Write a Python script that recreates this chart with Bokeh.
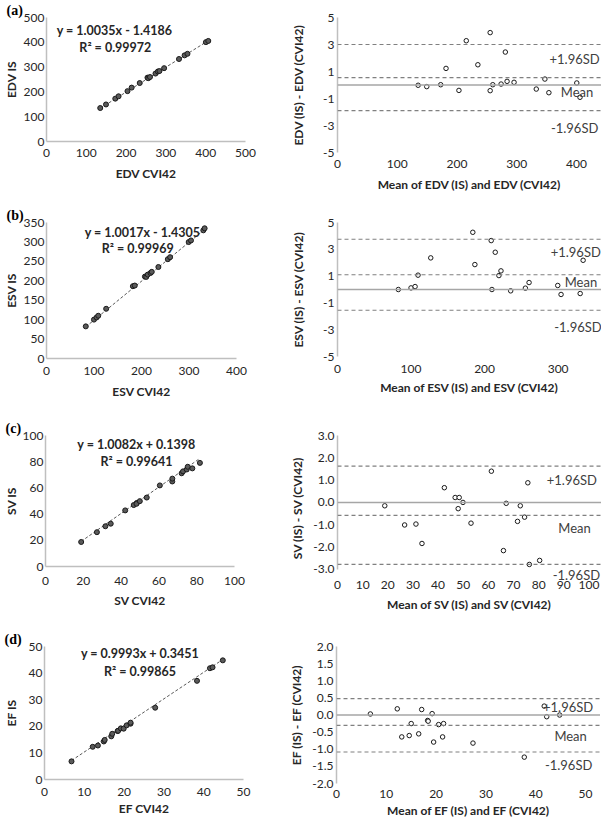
from bokeh.plotting import figure
from bokeh.layouts import column, row
from bokeh.models import Span, Label, FixedTicker, PrintfTickFormatter, Range1d, Title
from bokeh.embed import file_html
from bokeh.resources import INLINE

FONT = "Lato"
TXT = "#262626"
AXC = "#bfbfbf"

# ---------------- data (Bland-Altman: mean of methods, difference IS - CVI42) ----------------
edv_mean = [135, 149.4, 172.8, 181.7, 203.3, 215.6, 235, 255.6, 255.6, 260, 273.9, 281, 283.9, 295.6, 332.8, 347.2, 353.9, 400.6, 406]
edv_diff = [-0.02, -0.12, 0.02, 1.23, -0.4, 3.28, 1.5, 3.88, -0.42, 0.02, 0.07, 2.44, 0.27, 0.2, -0.3, 0.44, -0.57, 0.15, -0.91]
edv_fit = (1.0035, -1.4186, "0.99972")
edv_limits = (0.55, 3.0, -1.9)   # mean, +1.96SD, -1.96SD

esv_mean = [82.7, 100, 105.5, 109.5, 126.8, 184, 186.8, 209, 210, 214.5, 219.5, 222.3, 235.5, 255.5, 260.5, 299.5, 304, 330, 334]
esv_diff = [0, 0.12, 0.22, 1.07, 2.36, 4.27, 1.86, 3.65, 0, 2.78, 1.04, 1.39, -0.1, 0.1, 0.52, 0.3, -0.37, -0.3, 2.18]
esv_fit = (1.0017, -1.4305, "0.99969")
esv_limits = (1.1, 3.75, -1.55)

sv_mean = [18.8, 26.7, 31.2, 33.6, 42.5, 46.8, 48.4, 48.0, 49.9, 53.1, 61.2, 66.0, 67.1, 71.6, 72.7, 74.4, 75.7, 76.3, 80.4]
sv_diff = [-0.15, -1.01, -0.97, -1.84, 0.66, 0.22, 0.22, -0.28, 0, -0.93, 1.4, -2.16, -0.04, -0.85, -0.15, -0.66, 0.88, -2.78, -2.6]
sv_fit = (1.0082, 0.1398, "0.99641")
sv_limits = (-0.58, 1.63, -2.78)

ef_mean = [6.8, 12.2, 13.1, 14.6, 15.0, 16.5, 17.1, 18.3, 18.4, 19.2, 19.5, 20.5, 21.3, 21.5, 27.4, 37.7, 41.7, 42.2, 44.8]
ef_diff = [0.03, 0.18, -0.64, -0.6, -0.25, -0.55, 0.16, -0.16, -0.18, 0.04, -0.79, -0.28, -0.64, -0.25, -0.82, -1.23, 0.26, -0.05, 0.0]
ef_fit = (0.9993, 0.3451, "0.99865")
ef_limits = (-0.30, 0.48, -1.08)

# tick labels
edv_s_ticks = [0, 100, 200, 300, 400, 500]
esv_s_xticks = [0, 100, 200, 300, 400]
esv_s_yticks = [0, 50, 100, 150, 200, 250, 300, 350]
sv_s_ticks = [0, 20, 40, 60, 80, 100]
ef_s_ticks = [0, 10, 20, 30, 40, 50]
edv_ba_xticks = [0, 100, 200, 300, 400]
edv_ba_yticks = [-5, -3, -1, 1, 3, 5]
esv_ba_xticks = [0, 100, 200, 300]
sv_ba_xticks = [0, 10, 20, 30, 40, 50, 60, 70, 80, 90, 100]
sv_ba_yticks = [-3, -2, -1, 0, 1, 2, 3]
ef_ba_xticks = [0, 10, 20, 30, 40, 50]
ef_ba_yticks = [-2, -1.5, -1, -0.5, 0, 0.5, 1, 1.5, 2]


def style_axis(ax, ticks, fmt, lab_so, title_so, line=True):
    ax.ticker = FixedTicker(ticks=ticks)
    ax.formatter = PrintfTickFormatter(format=fmt)
    ax.major_tick_line_color = None
    ax.minor_tick_line_color = None
    ax.major_tick_out = 0
    ax.major_tick_in = 0
    ax.axis_line_color = AXC if line else None
    ax.axis_line_width = 1.5
    ax.major_label_text_font = FONT
    ax.major_label_text_font_size = "12px"
    ax.major_label_text_color = TXT
    ax.axis_label_text_font = FONT
    ax.axis_label_text_font_style = "bold"
    ax.axis_label_text_font_size = "12px"
    ax.axis_label_text_color = TXT
    ax.major_label_standoff = lab_so
    ax.axis_label_standoff = title_so


def make_fig(xr, yr, fw, fh, left, right, top, bottom, xlabel, ylabel):
    p = figure(x_range=Range1d(*xr), y_range=Range1d(*yr), frame_width=fw, frame_height=fh,
               min_border_left=left, min_border_right=right, min_border_top=top,
               min_border_bottom=bottom, output_backend="svg", toolbar_location=None,
               x_axis_label=xlabel, y_axis_label=ylabel)
    p.grid.visible = False
    p.outline_line_color = None
    p.background_fill_color = "white"
    p.border_fill_color = "white"
    return p


def scatter_panel(letter, name, mean, diff, fit, xr, yr, xticks, yticks, fw, fh, top, bottom,
                  eq_xy, r2_xy, ylab_so, xlab_so, xtitle_so):
    p = make_fig(xr, yr, fw, fh, 40, 282 - 40 - fw, top, bottom, f"{name} CVI42", f"{name} IS")
    style_axis(p.xaxis[0], xticks, "%d", xlab_so, xtitle_so)
    style_axis(p.yaxis[0], yticks, "%d", 2, ylab_so)
    cvi = [m - d / 2 for m, d in zip(mean, diff)]
    isv = [m + d / 2 for m, d in zip(mean, diff)]
    slope, icpt, r2 = fit
    x0, x1 = min(cvi), max(cvi)
    p.line([x0, x1], [slope * x0 + icpt, slope * x1 + icpt], line_color="#595959",
           line_dash="3 2", line_width=1)
    p.scatter(cvi, isv, size=5, fill_color="#5a5a5a", line_color="#1a1a1a", line_width=1)
    sign = "+" if icpt >= 0 else "-"
    eq = f"y = {slope:.4f}x {sign} {abs(icpt):.4f}"
    for txt, (x, y) in [(eq, eq_xy), (f"R\u00b2 = {r2}", r2_xy)]:
        p.add_layout(Label(x=x, y=y, text=txt, text_align="center", text_baseline="middle",
                           text_font=FONT, text_font_style="bold", text_font_size="12.5px",
                           text_color=TXT))
    p.add_layout(Title(text=letter, align="left", offset=-40, standoff=0,
                       text_font="Liberation Serif", text_font_style="bold",
                       text_font_size="14px", text_color="#000000"), "above")
    return p


def ba_panel(name, mean, diff, limits, xr, yr, xticks, yticks, yfmt, fh, top, bottom,
             txt_pos, ylab_so, xlab_so, xtitle_so):
    p = make_fig(xr, yr, 264, fh, 48, 0, top, bottom,
                 f"Mean of {name} (IS) and {name} (CVI42)", f"{name} (IS) - {name} (CVI42)")
    style_axis(p.xaxis[0], xticks, "%d", xlab_so, xtitle_so, line=False)
    style_axis(p.yaxis[0], yticks, yfmt, 3, ylab_so)
    p.yaxis[0].bounds = (yticks[0], yticks[-1])
    p.add_layout(Span(location=0, dimension="width", line_color="#a6a6a6", line_width=1.5))
    for loc in limits:
        p.add_layout(Span(location=loc, dimension="width", line_color="#808080",
                          line_dash="4 3", line_width=1.2))
    p.scatter(mean, diff, size=4.5, fill_color="white", line_color="#1a1a1a", line_width=1)
    for txt, (x, y) in zip(["+1.96SD", "Mean", "-1.96SD"], txt_pos):
        p.add_layout(Label(x=x, y=y, text=txt, text_align="center", text_baseline="middle",
                           text_font=FONT, text_font_size="13px", text_color="#404040"))
    return p


sa = scatter_panel("(a)", "EDV", edv_mean, edv_diff, edv_fit, (0, 500), (0, 500),
                   edv_s_ticks, edv_s_ticks, 199, 124, 17, 56, (171, 448), (173, 380),
                   2, 7, 6)
ba = ba_panel("EDV", edv_mean, edv_diff, edv_limits, (0, 442), (-5, 5), edv_ba_xticks,
              edv_ba_yticks, "%d", 135, 9, 53, [(397, 1.95), (401, -0.54), (397, -3.2)],
              14, 7, 6)

sb = scatter_panel("(b)", "ESV", esv_mean, esv_diff, esv_fit, (0, 400), (0, 350),
                   esv_s_xticks, esv_s_yticks, 190, 136, 23, 51, (202, 324), (192, 283),
                   2, 8, 6)
bb = ba_panel("ESV", esv_mean, esv_diff, esv_limits, (0, 359), (-5, 5), esv_ba_xticks,
              edv_ba_yticks, "%d", 134, 25, 51, [(324, 2.78), (331, 0.55), (327, -2.8)],
              14, 8, 4)

sc = scatter_panel("(c)", "SV", sv_mean, sv_diff, sv_fit, (0, 100), (0, 100),
                   sv_s_ticks, sv_s_ticks, 189, 131, 28, 51, (48.1, 92.8), (48.1, 80.2),
                   1, 10, 5)
bc = ba_panel("SV", sv_mean, sv_diff, sv_limits, (0, 105), (-3.5, 3), sv_ba_xticks,
              sv_ba_yticks, "%.1f", 145, 27, 38, [(93.2, 1.0), (94.3, -1.13), (95, -3.25)],
              5, 0, 5)

sd = scatter_panel("(d)", "EF", ef_mean, ef_diff, ef_fit, (0, 50), (0, 50),
                   ef_s_ticks, ef_s_ticks, 199, 133, 29, 41, (24.0, 47.2), (24.0, 40.7),
                   7, 8, 2)
bd = ba_panel("EF", ef_mean, ef_diff, ef_limits, (0, 53), (-2, 2), ef_ba_xticks,
              ef_ba_yticks, "%.1f", 137, 28, 38, [(46.5, 0.22), (47, -0.62), (46.6, -1.45)],
              5, 6, 2)

layout = column(row(sa, ba), row(sb, bb), row(sc, bc), row(sd, bd))

open("out.html", "w").write(file_html(layout, INLINE))
